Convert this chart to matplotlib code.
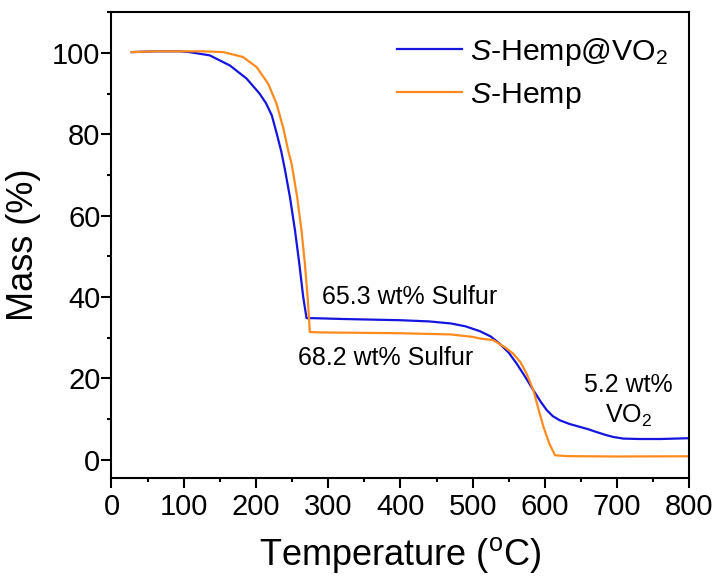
import matplotlib
matplotlib.use("Agg")
import matplotlib.pyplot as plt
from matplotlib.ticker import MultipleLocator

plt.rcParams['font.family'] = ['Liberation Sans', 'DejaVu Sans']
plt.rcParams['mathtext.fontset'] = 'custom'
plt.rcParams['mathtext.rm'] = 'Liberation Sans'
plt.rcParams['mathtext.it'] = 'Liberation Sans:italic'

# S-Hemp@VO2
t_vo2 = [28, 60, 95, 108, 136, 164, 187, 205, 214, 222, 229, 235, 240, 247, 254, 260, 265.4, 270,
         280, 320, 400, 440, 470, 490, 510, 525, 537.5, 550, 561, 573, 584, 594, 602.5, 611, 620.6,
         634, 648, 660, 671.6, 684, 694.7, 708.6, 730, 760, 800]
m_vo2 = [100.2, 100.4, 100.4, 100.2, 99.4, 96.9, 93.7, 90.0, 87.6, 84.6, 80.0, 75.8, 71.4, 64.6, 56.4,
         48.2, 40.0, 34.8, 34.8, 34.6, 34.3, 34.0, 33.5, 32.8, 31.6, 30.3, 28.5, 26.3, 23.6, 20.3, 17.1,
         14.3, 12.2, 10.7, 9.7, 8.8, 8.1, 7.5, 6.8, 6.1, 5.6, 5.2, 5.1, 5.1, 5.3]

# S-Hemp
t_hemp = [28, 60, 95, 125, 155, 182, 201, 217, 228.5, 238, 244.6, 249.3, 257, 263, 267.7, 271.5,
          274.6, 290, 400, 470, 500, 510, 528.5, 545, 556, 566, 574.6, 584, 591, 598, 606, 614, 630,
          648.6, 700, 800]
m_hemp = [100.2, 100.4, 100.4, 100.4, 100.2, 99.0, 96.5, 92.4, 87.5, 81.4, 76.0, 72.8, 64.6, 56.4,
          48.2, 40.0, 31.4, 31.3, 31.1, 30.8, 30.2, 29.8, 29.4, 27.6, 26.1, 24.0, 21.2, 17.1, 12.5,
          8.1, 4.0, 1.1, 0.9, 0.86, 0.8, 0.85]

labels = ['$\\mathit{S}$-Hemp@VO$_2$', '$\\mathit{S}$-Hemp']
colors = ['#1515dd', '#ff8a1e']

fig = plt.figure(figsize=(7.17, 5.83), dpi=100)
ax = fig.add_axes([0.1555, 0.180, 0.806, 0.799])

ax.plot(t_vo2, m_vo2, color=colors[0], lw=1.6, label=labels[0])
ax.plot(t_hemp, m_hemp, color=colors[1], lw=1.6, label=labels[1])

ax.set_xlim(0, 800)
ax.set_ylim(-4.5, 110)
ax.xaxis.set_major_locator(MultipleLocator(100))
ax.xaxis.set_minor_locator(MultipleLocator(50))
ax.yaxis.set_major_locator(MultipleLocator(20))
ax.yaxis.set_minor_locator(MultipleLocator(10))
ax.set_yticks([0, 20, 40, 60, 80, 100])

for s in ax.spines.values():
    s.set_linewidth(1.5)
ax.tick_params(which='major', direction='out', length=7, width=1.5, labelsize=21)
ax.tick_params(which='minor', direction='out', length=3.2, width=1.5)
ax.tick_params(axis='y', which='major', pad=1)
ax.tick_params(axis='x', which='major', pad=4)

ax.set_xlabel('Temperature ($^{\\mathrm{o}}$C)', fontsize=26, labelpad=10)
ax.set_ylabel('Mass (%)', fontsize=26, labelpad=8)

leg = ax.legend(loc='upper left', bbox_to_anchor=(0.494, 0.949), frameon=False, fontsize=21.8,
                handlelength=2.15, handletextpad=0.27, labelspacing=0.42, borderpad=0, borderaxespad=0)

ax.text(292, 39.9, '65.3 wt% Sulfur', fontsize=18, ha='left', va='center')
ax.text(258, 24.9, '68.2 wt% Sulfur', fontsize=18, ha='left', va='center')
ax.text(716, 18.3, '5.2 wt%', fontsize=18, ha='center', va='center')
ax.text(716, 10.9, 'VO$_2$', fontsize=18, ha='center', va='center')

fig.savefig('out.png', dpi=100)
